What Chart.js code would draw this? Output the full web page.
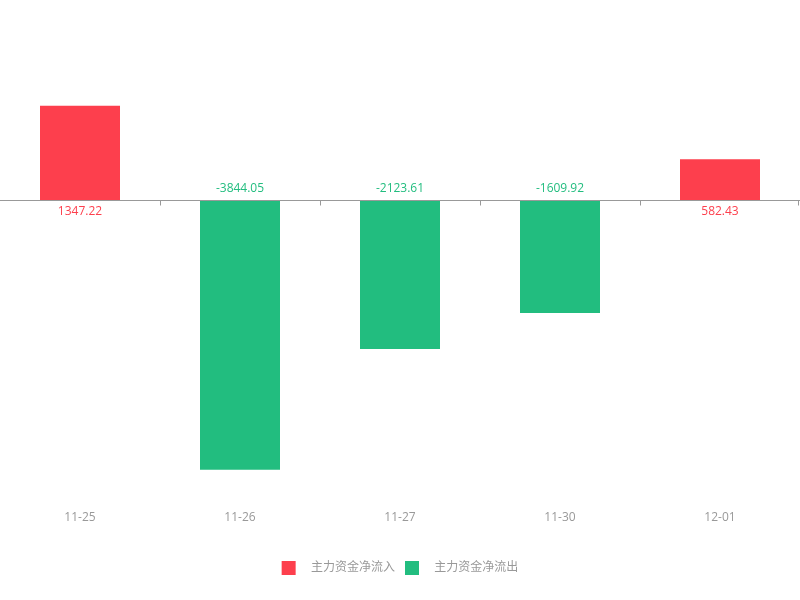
<!DOCTYPE html>
<html>
<head>
<meta charset="utf-8">
<script src="https://cdn.jsdelivr.net/npm/chart.js@4.4.0/dist/chart.umd.min.js"></script>
<style>
  html, body { margin: 0; padding: 0; background: #fff; }
  #wrap { width: 800px; height: 600px; }
</style>
</head>
<body>
<div id="wrap"><canvas id="flowChart"></canvas></div>
<script>
const categories = ['11-25', '11-26', '11-27', '11-30', '12-01'];
const netFlow = [1347.22, -3844.05, -2123.61, -1609.92, 582.43];
const seriesNames = ['主力资金净流入', '主力资金净流出'];

const RED = '#fd3f4d';
const GREEN = '#22bd7f';
const FONT = '"Open Sans", "Noto Sans CJK SC", sans-serif';

const inflow = netFlow.map((v) => (v >= 0 ? v : null));
const outflow = netFlow.map((v) => (v < 0 ? v : null));

// zero line with small tick marks, plus value labels next to it
const zeroAxis = {
  id: 'zeroAxis',
  afterDatasetsDraw(chart) {
    const { ctx, chartArea, scales } = chart;
    const y0 = Math.round(scales.y.getPixelForValue(0)) + 0.5;
    ctx.save();
    ctx.strokeStyle = '#999';
    ctx.lineWidth = 1;
    ctx.beginPath();
    ctx.moveTo(chartArea.left, y0);
    ctx.lineTo(chartArea.right, y0);
    const step = (chartArea.right - chartArea.left) / categories.length;
    for (let i = 1; i <= categories.length; i++) {
      const x = Math.min(Math.round(chartArea.left + step * i) + 0.5, chartArea.right - 1.5);
      ctx.moveTo(x, y0);
      ctx.lineTo(x, y0 + 5);
    }
    ctx.stroke();

    ctx.font = '12px ' + FONT;
    ctx.textAlign = 'center';
    ctx.textBaseline = 'middle';
    netFlow.forEach((v, i) => {
      const x = scales.x.getPixelForValue(i);
      ctx.fillStyle = v >= 0 ? RED : GREEN;
      ctx.fillText(v.toFixed(2), x, v >= 0 ? y0 + 11 : y0 - 12);
    });
    ctx.restore();
  },
};

new Chart(document.getElementById('flowChart'), {
  type: 'bar',
  data: {
    labels: categories,
    datasets: [
      { label: seriesNames[0], data: inflow, backgroundColor: RED },
      { label: seriesNames[1], data: outflow, backgroundColor: GREEN },
    ],
  },
  options: {
    responsive: true,
    maintainAspectRatio: false,
    animation: false,
    layout: { padding: { top: 60, left: 0, right: 0, bottom: 15 } },
    datasets: {
      bar: { categoryPercentage: 1, barPercentage: 0.5 },
    },
    plugins: {
      tooltip: { enabled: false },
      legend: {
        position: 'bottom',
        labels: {
          boxWidth: 14,
          boxHeight: 14,
          padding: 10,
          color: '#999',
          font: { size: 12, family: FONT },
          generateLabels(chart) {
            return chart.data.datasets.map((ds, i) => ({
              text: '   ' + ds.label,
              fillStyle: ds.backgroundColor,
              strokeStyle: ds.backgroundColor,
              fontColor: '#999',
              lineWidth: 0,
              hidden: false,
              datasetIndex: i,
            }));
          },
        },
      },
    },
    scales: {
      x: {
        stacked: true,
        grid: { display: false, drawTicks: false },
        border: { display: false },
        ticks: { color: '#999', padding: 30, font: { size: 12, family: FONT } },
        afterFit(scale) {
          scale.height -= 4;
        },
      },
      y: {
        stacked: true,
        display: false,
        min: -4000,
        max: 2000,
      },
    },
  },
  plugins: [zeroAxis],
});
</script>
</body>
</html>
